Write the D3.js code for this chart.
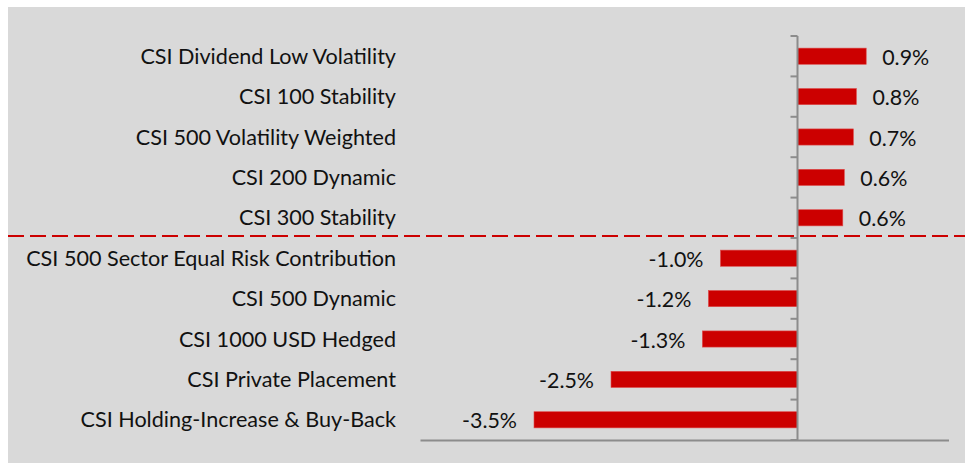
<!DOCTYPE html>
<html>
<head>
<meta charset="utf-8">
<script src="https://cdn.jsdelivr.net/npm/d3@7"></script>
<style>
  body { margin: 0; background: #fff; }
  text { font-family: Lato, "Open Sans", sans-serif; fill: #111; }
</style>
</head>
<body>
<div id="chart"></div>
<script>
// data (per cent)
var categories = [
  "CSI Dividend Low Volatility",
  "CSI 100 Stability",
  "CSI 500 Volatility Weighted",
  "CSI 200 Dynamic",
  "CSI 300 Stability",
  "CSI 500 Sector Equal Risk Contribution",
  "CSI 500 Dynamic",
  "CSI 1000 USD Hedged",
  "CSI Private Placement",
  "CSI Holding-Increase & Buy-Back"
];
var values = [0.91, 0.78, 0.74, 0.62, 0.60, -1.02, -1.18, -1.26, -2.47, -3.49];
var xDomain = [-5, 2];
var splitAfter = 5; // dashed divider between gainers and losers

var W = 965, H = 465;

var svg = d3.select("#chart")
  .append("svg")
  .attr("width", W)
  .attr("height", H);

// grey plot background
svg.append("rect")
  .attr("x", 8).attr("y", 7)
  .attr("width", W - 8).attr("height", H - 9)
  .attr("fill", "#d9d9d9");

var x = d3.scaleLinear()
  .domain(xDomain)
  .range([420, 948.5]);

var y = d3.scaleBand()
  .domain(categories)
  .range([36, 440])
  .paddingInner(0.6)
  .paddingOuter(0.3);

var data = categories.map(function(c, i) { return {name: c, value: values[i]}; });

// bottom value axis: just the line, no labels
svg.append("g")
  .attr("transform", "translate(0," + y.range()[1] + ")")
  .call(d3.axisBottom(x).ticks(0).tickSizeOuter(0))
  .call(function(g) { g.select(".domain").attr("stroke", "#8c8c8c").attr("stroke-width", 2); });

// bars
svg.append("g")
  .selectAll("rect")
  .data(data)
  .enter()
  .append("rect")
    .attr("x", function(d) { return Math.min(x(0), x(d.value)); })
    .attr("y", function(d) { return y(d.name); })
    .attr("width", function(d) { return Math.abs(x(d.value) - x(0)); })
    .attr("height", y.bandwidth())
    .attr("fill", "#cc0000")
    .attr("stroke", "#de4a4a")
    .attr("stroke-width", 0.6);

// vertical category axis at zero, ticks on category boundaries
var boundaries = d3.range(categories.length + 1).map(function(i) {
  return y.range()[0] + i * y.step();
});
var yAxis = svg.append("g").attr("stroke", "#8c8c8c");
yAxis.append("line")
  .attr("x1", x(0)).attr("x2", x(0))
  .attr("y1", boundaries[0]).attr("y2", boundaries[boundaries.length - 1])
  .attr("stroke-width", 2);
yAxis.selectAll(".tick")
  .data(boundaries)
  .enter()
  .append("line")
    .attr("x1", x(0) - 7).attr("x2", x(0))
    .attr("y1", function(d) { return d; })
    .attr("y2", function(d) { return d; })
    .attr("stroke-width", 2);

// category labels
svg.append("g")
  .selectAll("text")
  .data(data)
  .enter()
  .append("text")
    .attr("x", 396)
    .attr("y", function(d) { return y(d.name) + y.bandwidth() / 2; })
    .attr("dy", "0.35em")
    .attr("text-anchor", "end")
    .style("font-size", "21.6px")
    .text(function(d) { return d.name; });

// value labels
svg.append("g")
  .selectAll("text")
  .data(data)
  .enter()
  .append("text")
    .attr("x", function(d) { return d.value >= 0 ? x(d.value) + 16 : x(d.value) - 17; })
    .attr("y", function(d) { return y(d.name) + y.bandwidth() / 2; })
    .attr("dy", "0.4em")
    .attr("text-anchor", function(d) { return d.value >= 0 ? "start" : "end"; })
    .style("font-size", "21.4px")
    .text(function(d) { return d.value.toFixed(1) + "%"; });

// dashed red divider
svg.append("line")
  .attr("x1", 8).attr("x2", W)
  .attr("y1", boundaries[splitAfter] - 2)
  .attr("y2", boundaries[splitAfter] - 2)
  .attr("stroke", "#cc0000")
  .attr("stroke-width", 2)
  .attr("stroke-dasharray", "16,6");
</script>
</body>
</html>
